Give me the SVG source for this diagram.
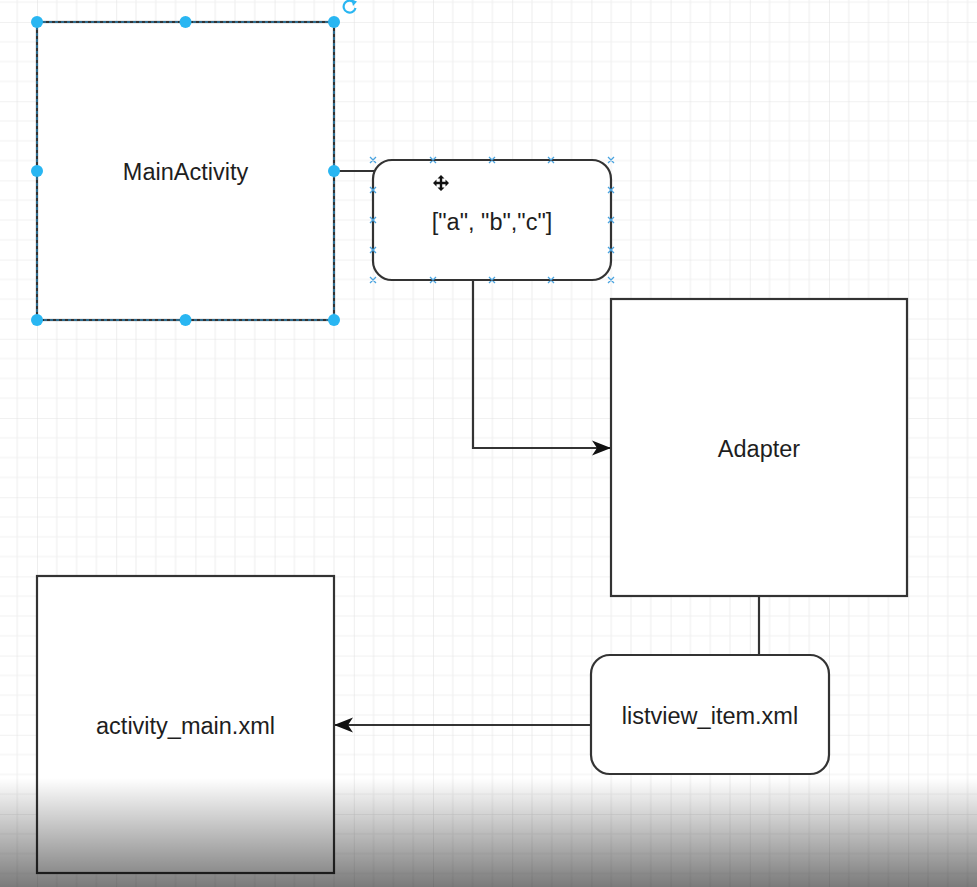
<svg xmlns="http://www.w3.org/2000/svg" width="977" height="887" viewBox="0 0 977 887">
<style>
.box{fill:#fff;stroke:#333;stroke-width:2.2}
.lbl{font-family:"Liberation Sans",Arial,Helvetica,sans-serif;font-size:23.5px;fill:#1e1e1e;text-anchor:middle}
.edge{fill:none;stroke:#333;stroke-width:2.2}
.handle{fill:#29b6f2}
.xm{stroke:#4aa3df;stroke-width:1.3;fill:none}
</style>
<defs>
<pattern id="grid" patternUnits="userSpaceOnUse" x="37" y="22" width="79.2" height="79.2">
<path d="M19.8 0V79.2M39.6 0V79.2M59.4 0V79.2M0 19.8H79.2M0 39.6H79.2M0 59.4H79.2" stroke="#f1f1f1" stroke-width="1.2" fill="none"/>
<path d="M0 0V79.2M0 0H79.2" stroke="#e3e3e3" stroke-width="1.2" fill="none"/>
</pattern>
<marker id="arrow" markerUnits="userSpaceOnUse" markerWidth="22" markerHeight="18" viewBox="-20 -9 22 18" refX="0" refY="0" orient="auto">
<path d="M0 0L-19 -7.5L-14 0L-19 7.5Z" fill="#111"/>
</marker>
<linearGradient id="shade" x1="0" y1="0" x2="0" y2="1">
<stop offset="0" stop-color="#000" stop-opacity="0"/>
<stop offset="1" stop-color="#000" stop-opacity="0.52"/>
</linearGradient>
</defs>
<rect width="977" height="887" fill="#fff"/>
<rect width="977" height="887" fill="url(#grid)"/>

<g id="connectors">
<path class="edge" d="M334 171H374"/>
<path class="edge" d="M473 280V448H611" marker-end="url(#arrow)"/>
<path class="edge" d="M759 596V655"/>
<path class="edge" d="M591 725H334" marker-end="url(#arrow)"/>
</g>

<g id="mainActivity">
<rect class="box" x="37" y="22" width="297" height="298"/>
<rect x="37" y="22" width="297" height="298" fill="none" stroke="#29a3e8" stroke-width="1" stroke-dasharray="3 3"/>
<text class="lbl" x="185.5" y="180">MainActivity</text>
<g class="handle">
<circle cx="37" cy="22" r="6"/><circle cx="185.5" cy="22" r="6"/><circle cx="334" cy="22" r="6"/>
<circle cx="37" cy="171" r="6"/><circle cx="334" cy="171" r="6"/>
<circle cx="37" cy="320" r="6"/><circle cx="185.5" cy="320" r="6"/><circle cx="334" cy="320" r="6"/>
</g>
<path d="M354 2.5A6 6 0 1 0 355.5 8" fill="none" stroke="#29b6f2" stroke-width="2.2"/>
<path d="M351.5 -0.5L357 1.5L353 6Z" fill="#29b6f2"/>
</g>

<g id="array">
<rect class="box" x="373" y="160" width="238" height="120" rx="19" ry="19"/>
<text class="lbl" x="492" y="230">["a", "b","c"]</text>
<g class="xm">
<path d="M370 157l6 6m0-6l-6 6M430 157l6 6m0-6l-6 6M489 157l6 6m0-6l-6 6M548 157l6 6m0-6l-6 6M608 157l6 6m0-6l-6 6"/>
<path d="M370 277l6 6m0-6l-6 6M430 277l6 6m0-6l-6 6M489 277l6 6m0-6l-6 6M548 277l6 6m0-6l-6 6M608 277l6 6m0-6l-6 6"/>
<path d="M370 187l6 6m0-6l-6 6M370 217l6 6m0-6l-6 6M370 247l6 6m0-6l-6 6"/>
<path d="M608 187l6 6m0-6l-6 6M608 217l6 6m0-6l-6 6M608 247l6 6m0-6l-6 6"/>
</g>
<path d="M441 175l3.5 3.5h-2.3v3.3h3.3v-2.3l3.5 3.5-3.5 3.5v-2.3h-3.3v3.3h2.3L441 191l-3.5-3.5h2.3v-3.3h-3.3v2.3L433 183l3.5-3.5v2.3h3.3v-3.3h-2.3Z" fill="#111"/>
</g>

<g id="adapter">
<rect class="box" x="611" y="299" width="296" height="297"/>
<text class="lbl" x="759" y="457">Adapter</text>
</g>

<g id="listviewItem">
<rect class="box" x="591" y="655" width="238" height="119" rx="19" ry="19"/>
<text class="lbl" x="710" y="724">listview_item.xml</text>
</g>

<g id="activityMain">
<rect class="box" x="37" y="576" width="297" height="297"/>
<text class="lbl" x="185.5" y="734">activity_main.xml</text>
</g>

<rect x="0" y="778" width="977" height="109" fill="url(#shade)"/>
</svg>
